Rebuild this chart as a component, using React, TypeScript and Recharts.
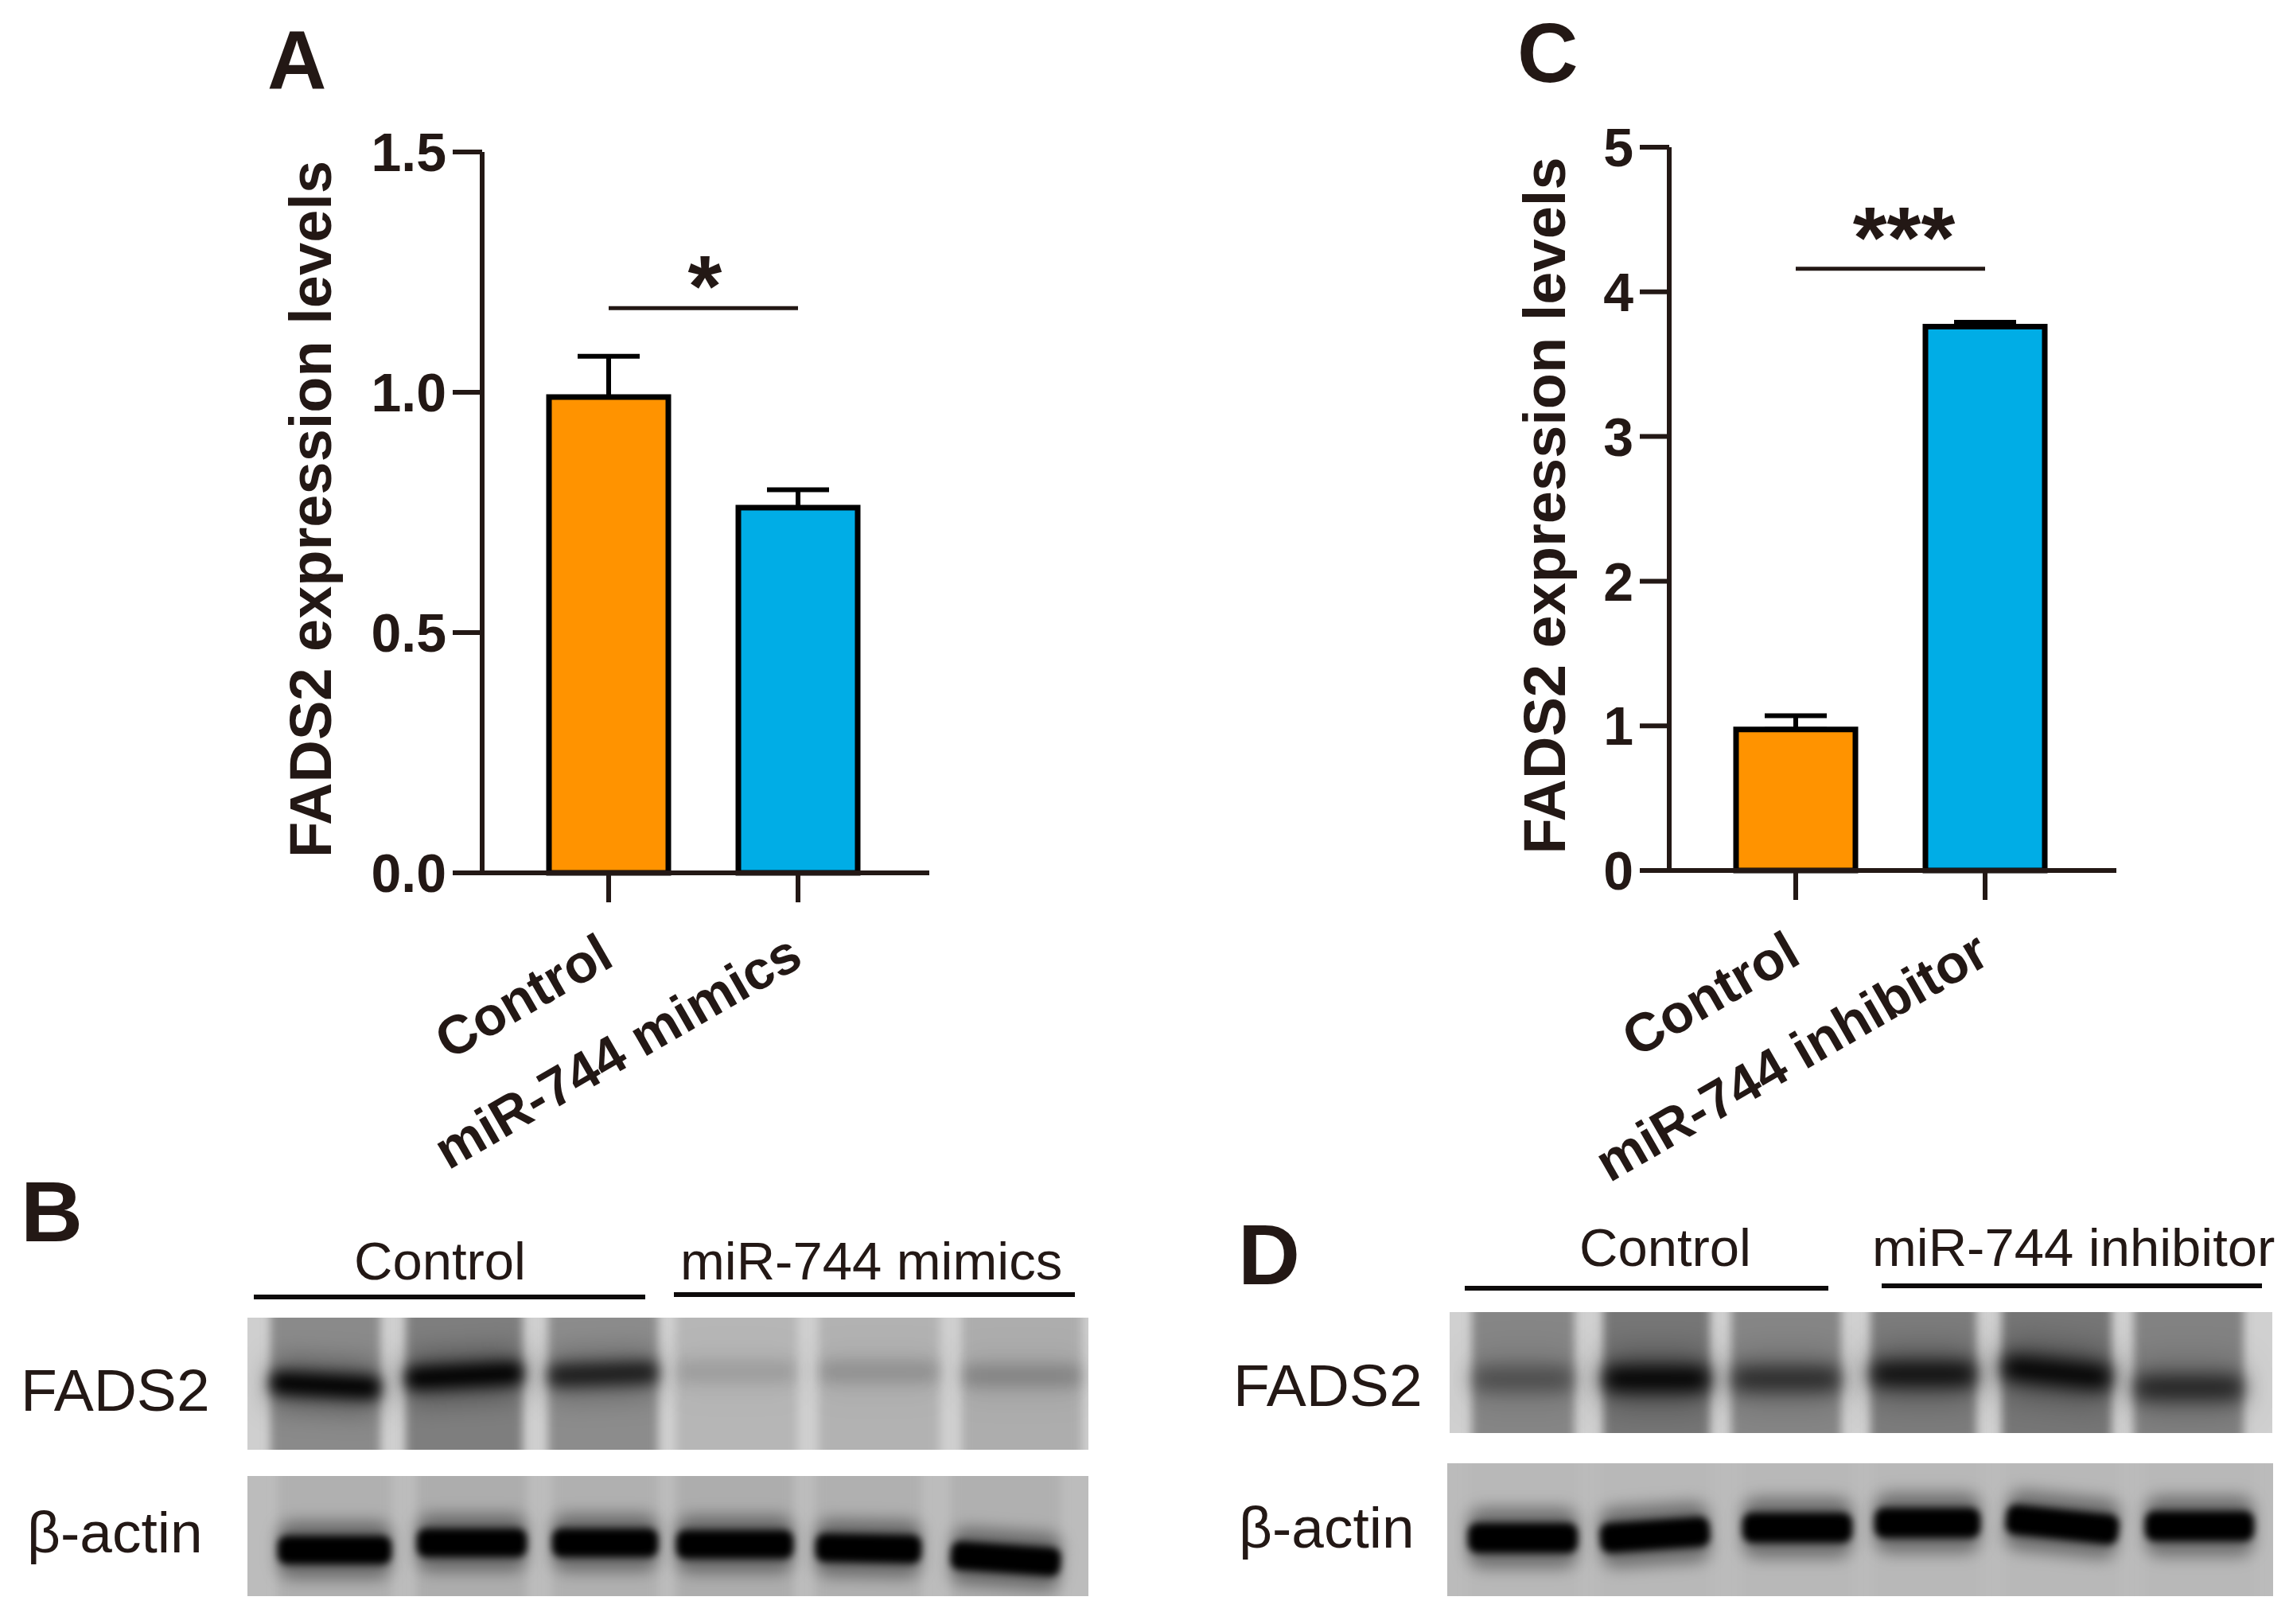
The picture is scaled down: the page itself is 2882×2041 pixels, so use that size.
import React from "react";
import {
  Bar,
  BarChart,
  Cell,
  ErrorBar,
  ReferenceLine,
  XAxis,
  YAxis,
} from "recharts";

const INK = "#231815";
const FONT = '"Liberation Sans", Arial, sans-serif';

// Panel A
const mimicCategories = ["Control", "miR-744 mimics"];
const mimicValues = [0.99, 0.76];
const mimicErrors = [0.085, 0.037];
const mimicTicks = [0, 0.5, 1, 1.5];

// Panel C
const inhibitorCategories = ["Control", "miR-744 inhibitor"];
const inhibitorValues = [0.975, 3.76];
const inhibitorErrors = [0.095, 0.03];
const inhibitorTicks = [0, 1, 2, 3, 4, 5];

const barColors = ["#ff9300", "#00ade6"];

// Blots: band darkness per lane
const bFads2 = [1, 1, 0.72, 0.1, 0.14, 0.18];
const bActin = [1, 1, 1, 1, 1, 1];
const dFads2 = [0.35, 1, 0.6, 0.85, 1, 0.65];
const dActin = [1, 1, 1, 1, 1, 1];

const RotatedTick = (props: any) => {
  const x = props.x + 9;
  const y = props.y + 76;
  return (
    <text
      x={x}
      y={y}
      transform={`rotate(-30 ${x} ${y})`}
      textAnchor="end"
      fontFamily={FONT}
      fontWeight={700}
      fontSize={68}
      fill={INK}
    >
      {props.payload.value}
    </text>
  );
};

function Panel(props: {
  left: number;
  top: number;
  width: number;
  axisWidth: number;
  plotHeight: number;
  paddingLeft: number;
  paddingRight: number;
  categories: string[];
  values: number[];
  errors: number[];
  ticks: number[];
  decimals: number;
  sigY: number;
  stars: string;
  starDx: number;
  starDy: number;
  labelDx: number;
}) {
  const data = props.categories.map((name, i) => ({
    name,
    value: props.values[i],
    err: [0, props.errors[i]],
  }));
  const max = props.ticks[props.ticks.length - 1];
  return (
    <div style={{ position: "absolute", left: props.left, top: props.top }}>
      <BarChart
        width={props.width}
        height={1400}
        data={data}
        margin={{ top: 60, right: 0, bottom: 0, left: 0 }}
      >
        <XAxis
          dataKey="name"
          height={1340 - props.plotHeight}
          interval={0}
          padding={{ left: props.paddingLeft, right: props.paddingRight }}
          stroke={INK}
          strokeWidth={6}
          tickSize={37}
          tick={<RotatedTick />}
        />
        <YAxis
          domain={[0, max]}
          ticks={props.ticks}
          width={props.axisWidth}
          stroke={INK}
          strokeWidth={6}
          tickSize={37}
          tickMargin={8}
          tickFormatter={(v: number) => v.toFixed(props.decimals)}
          tick={{
            fontSize: 68,
            fontWeight: 700,
            fontFamily: FONT,
            fill: INK,
            stroke: "none",
          }}
          label={{
            value: "FADS2 expression levels",
            angle: -90,
            position: "insideLeft",
            dx: props.labelDx,
            dy: -4,
            style: {
              fontSize: 74,
              fontWeight: 700,
              fontFamily: FONT,
              fill: INK,
              textAnchor: "middle",
            },
          }}
        />
        <Bar
          dataKey="value"
          barSize={150}
          stroke="#000"
          strokeWidth={7}
          isAnimationActive={false}
        >
          {data.map((d, i) => (
            <Cell key={d.name} fill={barColors[i]} />
          ))}
          <ErrorBar
            dataKey="err"
            direction="y"
            width={39}
            stroke="#000"
            strokeWidth={6}
            isAnimationActive={false}
          />
        </Bar>
        <ReferenceLine
          segment={[
            { x: props.categories[0], y: props.sigY },
            { x: props.categories[1], y: props.sigY },
          ]}
          stroke={INK}
          strokeWidth={5}
          label={{
            value: props.stars,
            position: "top",
            dx: props.starDx,
            dy: props.starDy,
            style: { fontSize: 110, fontWeight: 700, fontFamily: FONT, fill: INK },
          }}
        />
      </BarChart>
    </div>
  );
}

function Label(props: {
  x: number;
  y: number;
  size: number;
  bold?: boolean;
  children: string;
}) {
  return (
    <div
      style={{
        position: "absolute",
        left: props.x,
        top: props.y - props.size * 0.97,
        height: props.size * 1.2,
        lineHeight: `${props.size * 1.2}px`,
        fontSize: props.size,
        fontWeight: props.bold ? 700 : 400,
        fontFamily: FONT,
        color: INK,
        whiteSpace: "nowrap",
      }}
    >
      {props.children}
    </div>
  );
}

function Rule(props: { x1: number; x2: number; y: number }) {
  return (
    <div
      style={{
        position: "absolute",
        left: props.x1,
        top: props.y - 3,
        width: props.x2 - props.x1,
        height: 6,
        background: "#0d0a0a",
      }}
    />
  );
}

function Blot(props: {
  id: string;
  x: number;
  y: number;
  w: number;
  h: number;
  bg: string;
  laneFill: string[];
  lanes: number[][];
  bandY: number[];
  bandH: number;
  blur: number;
  tilt: number[];
  dark: number[];
}) {
  return (
    <svg
      width={props.w}
      height={props.h}
      style={{ position: "absolute", left: props.x, top: props.y }}
    >
      <defs>
        <filter id={`${props.id}-lane`} x="-20%" y="-20%" width="140%" height="140%">
          <feGaussianBlur stdDeviation="6" />
        </filter>
        <filter id={`${props.id}-band`} x="-30%" y="-100%" width="160%" height="300%">
          <feGaussianBlur stdDeviation={props.blur} />
        </filter>
        <filter id={`${props.id}-halo`} x="-30%" y="-100%" width="160%" height="300%">
          <feGaussianBlur stdDeviation={props.blur * 2} />
        </filter>
      </defs>
      <rect width={props.w} height={props.h} fill={props.bg} />
      {props.lanes.map((l, i) => (
        <rect
          key={i}
          x={l[0]}
          y={-20}
          width={l[1] - l[0]}
          height={props.h + 40}
          fill={props.laneFill[i]}
          filter={`url(#${props.id}-lane)`}
        />
      ))}
      {props.lanes.map((l, i) => {
        const cx = (l[0] + l[1]) / 2;
        const rotate = `rotate(${props.tilt[i]} ${cx} ${props.bandY[i]})`;
        return (
          <g key={i} transform={rotate}>
            <rect
              x={l[0]}
              y={props.bandY[i] - props.bandH}
              width={l[1] - l[0]}
              height={props.bandH * 2}
              rx={props.bandH / 2}
              fill="#000"
              fillOpacity={props.dark[i] * 0.4}
              filter={`url(#${props.id}-halo)`}
            />
            <rect
              x={l[0]}
              y={props.bandY[i] - props.bandH / 2}
              width={l[1] - l[0]}
              height={props.bandH}
              rx={props.bandH / 3}
              fill="#000"
              fillOpacity={props.dark[i]}
              filter={`url(#${props.id}-band)`}
            />
          </g>
        );
      })}
    </svg>
  );
}

export default function App() {
  return (
    <div
      style={{
        position: "absolute",
        left: 0,
        top: 0,
        width: 2882,
        height: 2041,
        background: "#fff",
        overflow: "hidden",
      }}
    >
      <Panel
        left={300}
        top={131}
        width={868}
        axisWidth={306}
        plotHeight={906}
        paddingLeft={40}
        paddingRight={46}
        categories={mimicCategories}
        values={mimicValues}
        errors={mimicErrors}
        ticks={mimicTicks}
        decimals={1}
        sigY={1.175}
        stars="*"
        starDx={2}
        starDy={15}
        labelDx={85}
      />
      <Panel
        left={1792}
        top={125}
        width={868}
        axisWidth={306}
        plotHeight={909}
        paddingLeft={40}
        paddingRight={46}
        categories={inhibitorCategories}
        values={inhibitorValues}
        errors={inhibitorErrors}
        ticks={inhibitorTicks}
        decimals={0}
        sigY={4.16}
        stars="***"
        starDx={17}
        starDy={3}
        labelDx={144}
      />

      <Label x={336} y={114} size={103} bold>A</Label>
      <Label x={1907} y={106} size={106} bold>C</Label>
      <Label x={26} y={1563} size={108} bold>B</Label>
      <Label x={1556} y={1617} size={108} bold>D</Label>

      <Label x={445} y={1610} size={67}>Control</Label>
      <Label x={855} y={1610} size={67}>miR-744 mimics</Label>
      <Rule x1={319} x2={811} y={1630} />
      <Rule x1={847} x2={1351} y={1627} />
      <Label x={26} y={1775} size={75}>FADS2</Label>
      <Label x={34} y={1953} size={73}>β-actin</Label>

      <Label x={1985} y={1593} size={67}>Control</Label>
      <Label x={2353} y={1593} size={67}>miR-744 inhibitor</Label>
      <Rule x1={1841} x2={2298} y={1619} />
      <Rule x1={2365} x2={2843} y={1616} />
      <Label x={1550} y={1769} size={75}>FADS2</Label>
      <Label x={1557} y={1947} size={73}>β-actin</Label>

      <Blot
        id="b1"
        x={311}
        y={1656}
        w={1057}
        h={166}
        bg="#cfcfcf"
        laneFill={["#8a8a8a", "#7e7e7e", "#8c8c8c", "#b6b6b6", "#b2b2b2", "#adadad"]}
        lanes={[[29, 167], [199, 346], [378, 516], [539, 691], [718, 870], [898, 1049]]}
        bandY={[85, 73, 71, 68, 68, 73]}
        bandH={28}
        blur={9}
        tilt={[3, -3, -2, 0, 0, 0]}
        dark={bFads2}
      />
      <Blot
        id="b2"
        x={311}
        y={1855}
        w={1057}
        h={151}
        bg="#bcbcbc"
        laneFill={["#b0b0b0", "#adadad", "#b0b0b0", "#adadad", "#b0b0b0", "#b0b0b0"]}
        lanes={[[38, 181], [213, 351], [383, 516], [539, 686], [714, 847], [884, 1022]]}
        bandY={[93, 84, 84, 86, 91, 104]}
        bandH={36}
        blur={5}
        tilt={[0, 0, 0, 0, 1, 4]}
        dark={bActin}
      />
      <Blot
        id="d1"
        x={1822}
        y={1649}
        w={1034}
        h={152}
        bg="#d0d0d0"
        laneFill={["#868686", "#767676", "#868686", "#7c7c7c", "#767676", "#828282"]}
        lanes={[[28, 157], [193, 327], [354, 492], [529, 662], [694, 832], [860, 998]]}
        bandY={[84, 84, 84, 78, 76, 95]}
        bandH={30}
        blur={11}
        tilt={[0, 0, 0, 0, 6, 0]}
        dark={dFads2}
      />
      <Blot
        id="d2"
        x={1819}
        y={1839}
        w={1038}
        h={167}
        bg="#bbbbbb"
        laneFill={["#b8b8b8", "#b8b8b8", "#b8b8b8", "#b8b8b8", "#b8b8b8", "#b8b8b8"]}
        lanes={[[26, 164], [192, 330], [371, 509], [537, 670], [702, 844], [877, 1014]]}
        bandY={[94, 90, 81, 75, 77, 79]}
        bandH={38}
        blur={5}
        tilt={[0, -4, 0, 0, 6, 0]}
        dark={dActin}
      />
    </div>
  );
}
